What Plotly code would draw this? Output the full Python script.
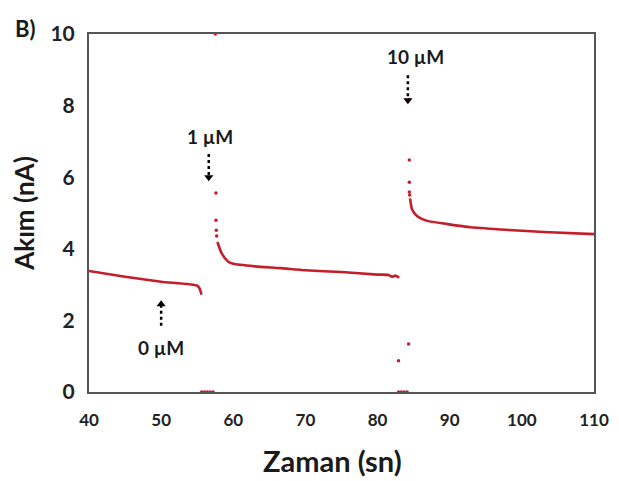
import plotly.graph_objects as go

# --- data ---
seg1_t = [40, 45, 50, 55, 55.3, 55.6]
seg1_i = [3.38, 3.22, 3.08, 2.97, 2.90, 2.72]

seg2_t = [57.8, 58.4, 59.3, 60, 63, 66.5, 70, 75, 80, 81.5, 82, 82.5, 83.0]
seg2_i = [4.19, 3.87, 3.64, 3.58, 3.51, 3.46, 3.40, 3.35, 3.28, 3.27, 3.22, 3.25, 3.19]

seg3_t = [84.5, 84.8, 85.5, 86.9, 89.7, 92.9, 97, 103, 110]
seg3_i = [5.41, 5.09, 4.91, 4.78, 4.69, 4.60, 4.54, 4.47, 4.41]

dots_t = [55.6, 56.0, 56.4, 56.8, 57.2, 57.5, 57.6, 57.6, 57.65, 57.7,
          82.9, 83.3, 83.7, 84.1, 82.9, 84.3,
          84.4, 84.4, 84.4, 84.4, 84.45]
dots_i = [0, 0, 0, 0, 0, 10, 5.56, 4.80, 4.52, 4.36,
          0, 0, 0, 0, 0.87, 1.34,
          8.17, 6.48, 5.86, 5.59, 5.50]

x_ticks = [40, 50, 60, 70, 80, 90, 100, 110]
y_ticks = [0, 2, 4, 6, 8, 10]

labels = ["0 µM", "1 µM", "10 µM"]
label_x = [50, 56.8, 85.3]
label_y = [1.25, 7.14, 9.37]
arrow_x = [50, 56.6, 84.2]
arrow_from = [1.85, 6.65, 8.85]
arrow_to = [2.45, 6.0, 8.15]
arrow_dir = ["triangle-up", "triangle-down", "triangle-down"]

RED = "#c41e2a"
FONT = "Lato"

fig = go.Figure()
for t, i in [(seg1_t, seg1_i), (seg2_t, seg2_i), (seg3_t, seg3_i)]:
    fig.add_trace(go.Scatter(x=t, y=i, mode="lines",
                             line=dict(color=RED, width=2.6, shape="spline", smoothing=0.6),
                             showlegend=False, hoverinfo="skip", cliponaxis=False))
fig.add_trace(go.Scatter(x=dots_t, y=dots_i, mode="markers",
                         marker=dict(color=RED, size=3.5), showlegend=False,
                         cliponaxis=False))

# arrows (dotted shafts + heads)
for ax_, a0, a1 in zip(arrow_x, arrow_from, arrow_to):
    fig.add_shape(type="line", x0=ax_, x1=ax_, y0=a0, y1=a1,
                  line=dict(color="black", width=2.5, dash="dot"))
fig.add_trace(go.Scatter(x=arrow_x, y=arrow_to, mode="markers",
                         marker=dict(color="black", size=8,
                                     symbol=arrow_dir),
                         showlegend=False, hoverinfo="skip"))

for txt, lx, ly in zip(labels, label_x, label_y):
    fig.add_annotation(x=lx, y=ly, text="<b>" + txt + "</b>", showarrow=False,
                       font=dict(family=FONT, size=19, color="#1a1a1a"))

fig.add_annotation(xref="paper", yref="paper", x=-0.125, y=1.015, text="<b>B)</b>",
                   showarrow=False, xanchor="center", yanchor="middle",
                   font=dict(family=FONT, size=22, color="#1a1a1a"))

# x-axis title (placed slightly left of centre, as in the reference)
fig.add_annotation(xref="paper", yref="paper", x=0.483, y=-0.19,
                   text="<b>Zaman (sn)</b>", showarrow=False,
                   xanchor="center", yanchor="middle",
                   font=dict(family=FONT, size=29, color="#1a1a1a"))

fig.update_xaxes(range=[40, 110], tickvals=x_ticks,
                 ticktext=["<b>%d</b>" % v for v in x_ticks],
                 showline=True, linecolor="#555555", linewidth=2, mirror=True,
                 showgrid=False, zeroline=False, ticks="outside", ticklen=12,
                 tickcolor="rgba(0,0,0,0)",
                 tickfont=dict(family=FONT, size=17, color="#222222"))
fig.update_yaxes(range=[0, 10], tickvals=y_ticks,
                 ticktext=["<b>%d</b>" % v for v in y_ticks],
                 showline=True, linecolor="#555555", linewidth=2, mirror=True,
                 showgrid=False, zeroline=False, ticks="outside", ticklen=8,
                 tickcolor="rgba(0,0,0,0)",
                 tickfont=dict(family=FONT, size=21, color="#222222"),
                 title=dict(text="<b>Akım (nA)</b>", standoff=8,
                            font=dict(family=FONT, size=26, color="#1a1a1a")))

fig.update_layout(width=619, height=481, margin=dict(l=81, r=33, t=17, b=97),
                  plot_bgcolor="white", paper_bgcolor="white")

fig.write_html("out.html")
